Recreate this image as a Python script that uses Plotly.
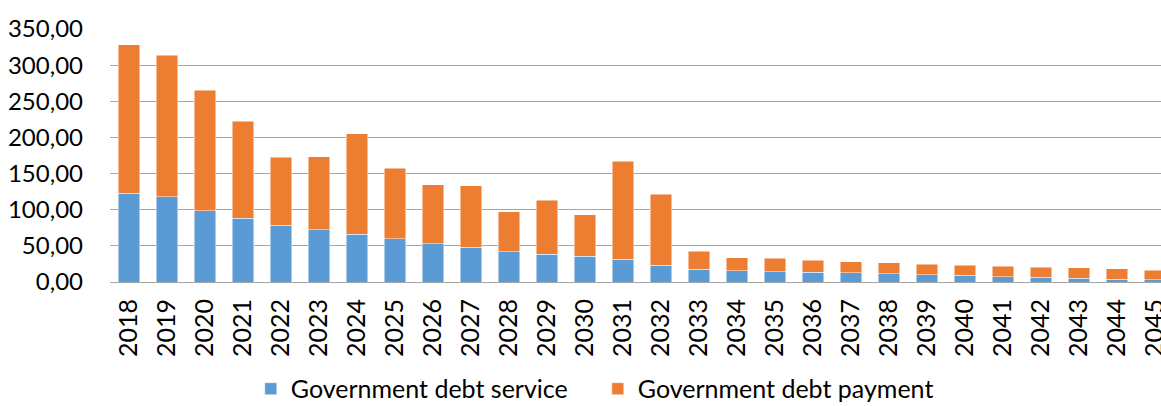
import plotly.graph_objects as go

years = [str(y) for y in range(2018, 2046)]
debt_service = [123.0, 117.6, 98.7, 88.0, 78.4, 72.4, 65.9, 59.5, 53.0, 48.0,
                42.0, 38.3, 35.5, 31.4, 23.0, 17.5, 15.7, 14.5, 13.4, 12.5,
                11.5, 10.1, 9.2, 7.4, 6.5, 5.1, 4.1, 3.2]
debt_payment = [205.0, 196.0, 166.9, 134.3, 94.5, 100.6, 139.3, 98.2, 81.2, 85.2,
                55.3, 75.1, 57.2, 135.5, 98.7, 24.9, 17.9, 18.5, 16.6, 15.6,
                15.3, 14.3, 13.8, 14.3, 13.8, 14.3, 13.9, 13.4]
y_ticks = [0, 50, 100, 150, 200, 250, 300, 350]

FONT = "Lato"
fig = go.Figure()
fig.add_trace(go.Bar(x=years, y=debt_service, name="Government debt service",
                     marker=dict(color="#5B9BD5", line=dict(color="rgba(255,255,255,0.6)", width=0.8))))
fig.add_trace(go.Bar(x=years, y=debt_payment, name="Government debt payment",
                     marker=dict(color="#ED7D31", line=dict(color="rgba(255,255,255,0.6)", width=0.8))))

fig.update_layout(
    width=1161, height=406,
    barmode="stack", bargap=0.43,
    separators=", ",
    paper_bgcolor="white", plot_bgcolor="white",
    margin=dict(l=110, r=0, t=29, b=124, autoexpand=False),
    font=dict(family=FONT, size=25, color="black"),
    showlegend=True,
    legend=dict(orientation="h", xref="container", yref="container",
                x=0.216, xanchor="left", y=0.042, yanchor="middle",
                font=dict(family=FONT, size=25, color="black"),
                entrywidth=302, traceorder="normal", itemclick=False),
    xaxis=dict(type="category", range=[-0.5, 27.16], tickangle=-90,
               showgrid=False, showline=True, linecolor="#a6a6a6", linewidth=1.2,
               ticks="", tickfont=dict(family=FONT, size=25), ticklabelstandoff=6),
    yaxis=dict(range=[0, 350], tickvals=y_ticks, tickformat=".2f",
               showgrid=True, gridcolor="#a6a6a6", gridwidth=1.2,
               zeroline=False, showline=False, ticks="",
               tickfont=dict(family=FONT, size=24), ticklabelstandoff=26),
)

fig.write_html(
    "out.html",
    config={"displayModeBar": False},
    post_script="document.body.style.margin='0';document.body.style.padding='0';",
)
